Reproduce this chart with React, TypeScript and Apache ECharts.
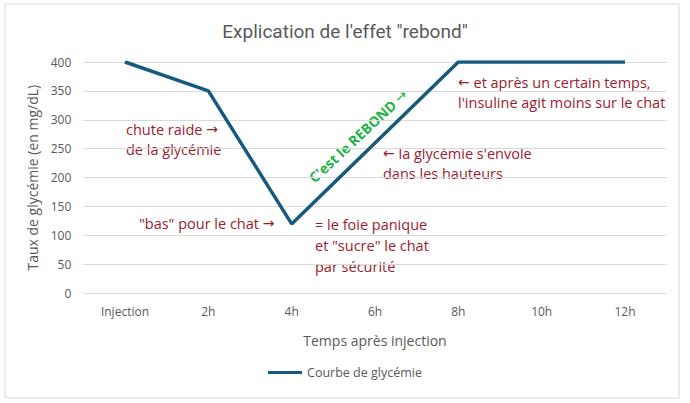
import React, { useEffect, useRef } from "react";
import * as echarts from "echarts";

const categories = ["Injection", "2h", "4h", "6h", "8h", "10h", "12h"];
const glycemie = [400, 350, 120, 260, 400, 400, 400];
const seriesName = "Courbe de glycémie";

const RED = "#9c1b2f";
const GREEN = "#1fb347";
const FONT = "'Open Sans', sans-serif";

// arrows are missing in Open Sans, draw them with DejaVu Sans
const arrows = (s: string) => s.replace(/([→←])/g, "{ar|$1}");

const App = () => {
  const chartRef = useRef<HTMLDivElement>(null);

  useEffect(() => {
    if (!chartRef.current) return;
    const chart = echarts.init(chartRef.current, undefined, { renderer: "svg" });

    const note = (x: number, y: number, text: string) => ({
      type: "text",
      x,
      y,
      style: {
        text: arrows(text),
        fill: RED,
        fontSize: 14.5,
        fontFamily: FONT,
        textVerticalAlign: "middle",
        rich: {
          ar: { fontFamily: "DejaVu Sans", fontSize: 14, fill: RED, color: RED },
        },
      },
    });

    chart.setOption({
      animation: false,
      backgroundColor: "#ffffff",
      title: {
        text: "Explication de l'effet \"rebond\"",
        left: "center",
        top: 17,
        textStyle: {
          color: "#595959",
          fontSize: 19,
          fontWeight: "normal",
          fontFamily: "Roboto",
        },
      },
      legend: {
        data: [seriesName],
        bottom: 19,
        left: "center",
        icon: "rect",
        itemWidth: 34,
        itemHeight: 3,
        textStyle: { color: "#595959", fontSize: 12.5, fontFamily: FONT },
      },
      grid: { left: 83.3, right: 23.3, top: 62, bottom: 109.7 },
      xAxis: {
        type: "category",
        data: categories,
        name: "Temps après injection",
        nameLocation: "middle",
        nameGap: 40,
        nameTextStyle: { color: "#595959", fontSize: 14, fontFamily: FONT },
        axisLine: { show: false },
        axisTick: { show: false },
        axisLabel: { color: "#595959", fontSize: 12, margin: 12, fontFamily: FONT },
      },
      yAxis: {
        type: "value",
        min: 0,
        max: 400,
        interval: 50,
        name: "Taux de glycémie (en mg/dL)",
        nameLocation: "middle",
        nameGap: 42,
        nameTextStyle: { color: "#595959", fontSize: 14, fontFamily: FONT },
        axisLabel: { color: "#595959", fontSize: 12, margin: 12, fontFamily: FONT },
        splitLine: { lineStyle: { color: "#d9d9d9", width: 1 } },
      },
      series: [
        {
          name: seriesName,
          type: "line",
          data: glycemie,
          symbol: "none",
          lineStyle: { color: "#185a7d", width: 3.5 },
          itemStyle: { color: "#185a7d" },
        },
      ],
      graphic: [
        {
          type: "rect",
          shape: { x: 5, y: 4, width: 674, height: 394 },
          style: { fill: "none", stroke: "#d9d9d9", lineWidth: 1 },
          silent: true,
        },
        note(126, 129, "chute raide →"),
        note(126, 149, "de la glycémie"),
        note(139, 223, "\"bas\" pour le chat →"),
        note(315, 224, "= le foie panique"),
        note(315, 245, "et \"sucre\" le chat"),
        note(315, 266, "par sécurité"),
        note(383, 153, "← la glycémie s'envole"),
        note(383, 173, "dans les hauteurs"),
        note(458, 82, "← et après un certain temps,"),
        note(458, 102, "l'insuline agit moins sur le chat"),
        {
          type: "text",
          x: 358,
          y: 136,
          rotation: (43 * Math.PI) / 180,
          style: {
            text: "C'est le REBOND {ar|→}",
            fill: GREEN,
            fontSize: 14,
            fontWeight: "bold",
            fontFamily: FONT,
            textAlign: "center",
            textVerticalAlign: "middle",
            rich: {
              ar: { fontFamily: "DejaVu Sans", fontSize: 14, fill: GREEN, color: GREEN },
            },
          },
        },
      ],
    });

    return () => {
      chart.dispose();
    };
  }, []);

  return (
    <div
      ref={chartRef}
      style={{ position: "absolute", left: 0, top: 0, width: 690, height: 403 }}
    />
  );
};

export default App;
